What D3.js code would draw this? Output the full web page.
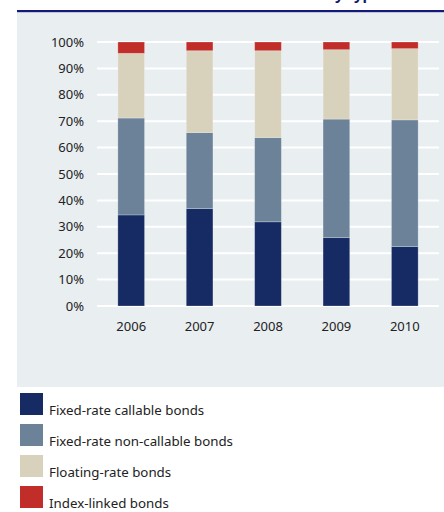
<!DOCTYPE html>
<html><head><meta charset="utf-8">
<script src="https://cdn.jsdelivr.net/npm/d3@7"></script>
<style>body{margin:0;background:#fff}svg{display:block}</style>
</head><body>
<svg id="c" width="444" height="512"></svg>
<script>
const years = ["2006","2007","2008","2009","2010"];
const seriesNames = ["Fixed-rate callable bonds","Fixed-rate non-callable bonds","Floating-rate bonds","Index-linked bonds"];
const fixedCallable    = [34.5, 36.9, 31.9, 25.9, 22.5];
const fixedNonCallable = [36.7, 28.8, 31.9, 44.9, 48.0];
const floatingRate     = [24.5, 31.0, 32.9, 26.3, 27.0];
const indexLinked      = [4.3, 3.3, 3.3, 2.9, 2.5];
const yTicks = [0,10,20,30,40,50,60,70,80,90,100];
const colors = ["#162a63","#6b8299","#d8d2bd","#c12e2a"];

const svg = d3.select("#c");
const font = "'Noto Sans', sans-serif";

// title (cut off at top, as in the reference)
svg.append("text").attr("x",381).attr("y",-0.5).attr("text-anchor","end")
  .attr("font-family",font).attr("font-weight","bold").attr("font-size",15)
  .attr("fill","#141a6e").text("Domestic bonds by type");

// panel
svg.append("rect").attr("x",17).attr("y",12).attr("width",427).attr("height",375).attr("fill","#e9eef1");
svg.append("rect").attr("x",17).attr("y",10).attr("width",427).attr("height",2.2).attr("fill","#141a7a");

const x = d3.scaleBand().domain(years).range([97,439]).paddingInner(0.61).paddingOuter(0.305);
const y = d3.scaleLinear().domain([0,100]).range([306,42]);

// gridlines
svg.append("g").selectAll("line").data(yTicks).join("line")
  .attr("x1",97).attr("x2",439).attr("y1",d=>y(d)).attr("y2",d=>y(d))
  .attr("stroke","#fff").attr("stroke-width",2);

// y axis
const ya = svg.append("g").attr("transform","translate(97,0)")
  .call(d3.axisLeft(y).tickValues(yTicks).tickFormat(d=>d+"%").tickSize(0).tickPadding(13));
ya.select(".domain").remove();
ya.selectAll("text").attr("font-family",font).attr("font-size",13).attr("fill","#222");

// x axis
const xa = svg.append("g").attr("transform","translate(0,306)")
  .call(d3.axisBottom(x).tickSize(0).tickPadding(16));
xa.select(".domain").remove();
xa.selectAll("text").attr("font-family",font).attr("font-size",13).attr("fill","#222");

// stacked data
const rows = years.map((yr,i)=>({year:yr, s0:fixedCallable[i], s1:fixedNonCallable[i], s2:floatingRate[i], s3:indexLinked[i]}));
const stack = d3.stack().keys(["s0","s1","s2","s3"])(rows);

svg.append("g").selectAll("g").data(stack).join("g")
  .attr("fill",(d,i)=>colors[i])
  .selectAll("rect").data(d=>d).join("rect")
  .attr("x",d=>x(d.data.year)).attr("width",x.bandwidth())
  .attr("y",d=>y(Math.min(d[1],100))).attr("height",d=>y(d[0])-y(Math.min(d[1],100)))
  .attr("stroke","rgba(255,255,255,0.3)").attr("stroke-width",0.8);

// legend
const lg = svg.append("g").selectAll("g").data(seriesNames).join("g")
  .attr("transform",(d,i)=>`translate(20,${393+i*31})`);
lg.append("rect").attr("width",23).attr("height",22).attr("fill",(d,i)=>colors[i]);
lg.append("text").attr("x",29).attr("y",22).attr("font-family",font).attr("font-size",13.3)
  .attr("fill","#222").text(d=>d);
</script>
</body></html>
